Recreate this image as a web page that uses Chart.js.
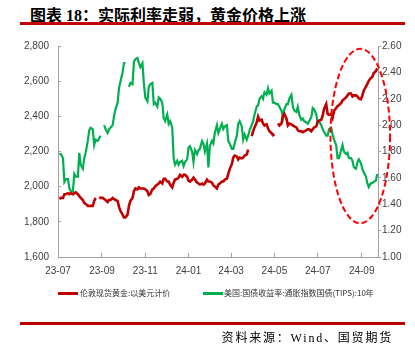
<!DOCTYPE html>
<html>
<head>
<meta charset="utf-8">
<script src="https://cdn.jsdelivr.net/npm/chart.js@4.4.1/dist/chart.umd.min.js"></script>
<style>
  html, body { margin: 0; padding: 0; background: #fff; }
  body { width: 415px; height: 356px; position: relative; overflow: hidden; }
  #title { position: absolute; left: 30px; top: 2px; font-family: 'Liberation Serif', 'Noto Sans CJK SC', serif; font-weight: bold; font-size: 16px; color: #000; white-space: nowrap; }
  .rule { position: absolute; left: 20px; width: 385px; height: 2.5px; background: #C00000; }
  #wrap { position: absolute; left: 0; top: 28px; width: 415px; height: 262px; }
  #legend { position: absolute; left: 0; top: 287px; width: 415px; height: 14px; font-family: 'Noto Sans CJK SC', sans-serif; font-size: 8px; color: #333; }
  .item { position: absolute; top: 0; height: 12px; line-height: 12px; white-space: nowrap; }
  .sw { position: absolute; top: 5px; width: 20px; height: 3px; }
  .txt { position: absolute; top: 0; }
  #source { position: absolute; right: 22px; top: 328px; font-family: 'Liberation Serif', 'Noto Sans CJK SC', serif; font-size: 12px; letter-spacing: 1.8px; color: #000; white-space: nowrap; }
</style>
</head>
<body>
<div id="title">图表 18：实际利率走弱，黄金价格上涨</div>
<div class="rule" style="top:22px"></div>
<div id="wrap"><canvas id="c" width="415" height="262"></canvas></div>
<div id="legend"></div>
<div class="rule" style="top:322px"></div>
<div id="source">资料来源：Wind、国贸期货</div>
<script>
// ---- categories (dates) ----
const dates = [
'2023-07-05','2023-07-07','2023-07-10','2023-07-12','2023-07-14','2023-07-17','2023-07-19','2023-07-21','2023-07-24','2023-07-26','2023-07-28','2023-07-31',
'2023-08-02','2023-08-04','2023-08-07','2023-08-09','2023-08-11','2023-08-14','2023-08-16','2023-08-18','2023-08-21','2023-08-23','2023-08-25','2023-08-28',
'2023-08-30','2023-09-01','2023-09-04','2023-09-06','2023-09-08','2023-09-11','2023-09-13','2023-09-15','2023-09-18','2023-09-20','2023-09-22','2023-09-25',
'2023-09-27','2023-09-29','2023-10-02','2023-10-04','2023-10-06','2023-10-09','2023-10-11','2023-10-13','2023-10-16','2023-10-18','2023-10-20','2023-10-23',
'2023-10-25','2023-10-27','2023-10-30','2023-11-01','2023-11-03','2023-11-06','2023-11-08','2023-11-10','2023-11-13','2023-11-15','2023-11-17','2023-11-20',
'2023-11-22','2023-11-24','2023-11-27','2023-11-29','2023-12-01','2023-12-04','2023-12-06','2023-12-08','2023-12-11','2023-12-13','2023-12-15','2023-12-18',
'2023-12-20','2023-12-22','2023-12-25','2023-12-27','2023-12-29','2024-01-01','2024-01-03','2024-01-05','2024-01-08','2024-01-10','2024-01-12','2024-01-15',
'2024-01-17','2024-01-19','2024-01-22','2024-01-24','2024-01-26','2024-01-29','2024-01-31','2024-02-02','2024-02-05','2024-02-07','2024-02-09','2024-02-12',
'2024-02-14','2024-02-16','2024-02-19','2024-02-21','2024-02-23','2024-02-26','2024-02-28','2024-03-01','2024-03-04','2024-03-06','2024-03-08','2024-03-11',
'2024-03-13','2024-03-15','2024-03-18','2024-03-20','2024-03-22','2024-03-25','2024-03-27','2024-03-29','2024-04-01','2024-04-03','2024-04-05','2024-04-08',
'2024-04-10','2024-04-12','2024-04-15','2024-04-17','2024-04-19','2024-04-22','2024-04-24','2024-04-26','2024-04-29','2024-05-01','2024-05-03','2024-05-06',
'2024-05-08','2024-05-10','2024-05-13','2024-05-15','2024-05-17','2024-05-20','2024-05-22','2024-05-24','2024-05-27','2024-05-29','2024-05-31','2024-06-03',
'2024-06-05','2024-06-07','2024-06-10','2024-06-12','2024-06-14','2024-06-17','2024-06-19','2024-06-21','2024-06-24','2024-06-26','2024-06-28','2024-07-01',
'2024-07-03','2024-07-05','2024-07-08','2024-07-10','2024-07-12','2024-07-15','2024-07-17','2024-07-19','2024-07-22','2024-07-24','2024-07-26','2024-07-29',
'2024-07-31','2024-08-02','2024-08-05','2024-08-07','2024-08-09','2024-08-12','2024-08-14','2024-08-16','2024-08-19','2024-08-21','2024-08-23','2024-08-26',
'2024-08-28','2024-08-30','2024-09-02','2024-09-04','2024-09-06','2024-09-09','2024-09-11','2024-09-13','2024-09-16','2024-09-18','2024-09-20','2024-09-23',
'2024-09-25'
];

// ---- series: LBMA gold spot, USD (left axis) ----
const goldPrice = [
1930,1936,1936, 1957,1957,1963, 1957,1963,1957, 1963,1968,1957,
1946,1936,1924, 1908,1902,1891, 1891,1891,1891, 1919,1936,null,
1941,1936,1936, 1930,1924,1913, 1924,1924,1936, 1930,1924,1919,
1885,1863,1841, 1825,1825,1841, 1891,1919,1936, 1974,1990,1985,
1996,1990,1990, 1990,1985,1974, 1952,1957,1985, 1990,2001,2012,
2018,2029,2018, 2045,2045,2029, 2029,2012,1996, 2023,2040,2045,
2051,2067,2056, 2067,2067,2056, 2034,2029,2040, 2051,2040,2023,
2018,2012,2018, 2012,2018,2040, 2029,2029,2023, 2007,2001,1990,
2012,2018,2029, 2029,2040,2045, 2073,2100,2128, 2166,2177,2172,
2155,2166,2161, 2166,2177,2183, 2211,null,2288, 2315,2337,2365,
2398,2376,2381, 2359,2348,2354, 2332,2315,2304, 2293,2299,null,
2359,2348,2359, 2403,2414,2387, 2348,2359,2354, 2348,2343,2337,
2321,2315,2315, 2310,2315,2321, 2326,2326,2315, 2326,2337,2343,
2370,2376,2381, 2403,2442,2469, 2414,2409,2414, 2392,2431,2447,
2458,2464,2475, 2491,2497,2508, 2519,2530,2530, 2513,2519,2519,
2513,2502,2497, 2519,2547,2569, 2585,2602,2618, 2624,2646,2657,
2673
];

// ---- series: US 10Y TIPS yield, % (right axis) ----
const tipsYield = [
1.78,1.78,1.75, 1.57,1.59,1.59, 1.52,1.50,1.50, 1.63,1.61,1.61,
1.79,1.70,1.67, 1.75,1.79,1.88, 1.96,1.98,1.97, 1.85,1.89,1.88,
1.90,1.92,null, 2.00,1.97,1.94, 1.97,1.98,2.00, 2.07,2.12,2.17,
2.28,2.33,2.40, 2.47,2.47,null, 2.29,2.32,2.31, 2.48,2.50,2.51,
2.47,2.44,2.47, 2.32,2.21,2.18, 2.29,2.31,2.32, 2.16,2.17,2.14,
2.21,2.20,2.17, 2.05,2.03,2.08, 2.01,2.03,1.98, 1.75,1.70,1.73,
1.70,1.72,1.73, 1.69,1.72,1.74, 1.83,1.84,1.80, 1.72,1.81,1.78,
1.81,1.82,1.88, 1.86,1.80,1.86, 1.68,1.84,1.88, 1.86,1.94,2.00,
1.94,1.97,2.01, 1.97,1.99,2.00, 1.88,1.86,1.82, 1.82,1.86,1.92,
2.01,2.03,1.99, 1.89,1.93,1.89, 1.92,1.96,2.00, 2.03,2.08,2.14,
2.15,2.20,2.22, 2.20,2.25,2.23, 2.28,2.24,2.26, 2.17,2.17,2.16,
2.16,2.14,2.11, 2.06,2.12,2.16, 2.16,2.20,2.23, 2.14,2.11,2.10,
2.14,2.08,2.04, 2.05,2.03,2.02, 2.01,2.03,2.06, 2.13,2.12,2.08,
2.02,2.03,2.00, 1.97,1.95,1.92, 1.92,1.97,1.98, 1.93,1.89,1.85,
1.75,1.75,1.81, 1.85,1.80,1.78, 1.79,1.75,1.75, 1.73,1.68,1.67,
1.72,1.74,1.71, 1.67,1.64,1.61, 1.56,1.53,1.56, 1.56,1.57,1.58,
1.63
];

const seriesNames = ['伦敦现货黄金:以美元计价', '美国:国债收益率:通胀指数国债(TIPS):10年'];
const seriesColors = ['#C00000', '#00B050'];

// ---- axis ticks ----
const axisStart = '2023-07-03';
const axisEnd = '2024-09-26';
const xTickDates = ['2023-07-03','2023-09-03','2023-11-03','2024-01-03','2024-03-03','2024-05-03','2024-07-03','2024-09-03'];
const xTickLabels = ['23-07','23-09','23-11','24-01','24-03','24-05','24-07','24-09'];
const leftTicks = [1600, 1800, 2000, 2200, 2400, 2600, 2800];
const rightTicks = [1.00, 1.20, 1.40, 1.60, 1.80, 2.00, 2.20, 2.40, 2.60];

// highlight ellipse, in data units (dates on x, left-axis values on y)
const highlight = { xFrom: '2024-07-21', xTo: '2024-10-13', yFrom: 1792, yTo: 2784 };

const DAY = 86400000;
const dayOf = d => (Date.parse(d) - Date.parse(axisStart)) / DAY;

const goldPts = dates.map((d, i) => ({ x: dayOf(d), y: goldPrice[i] }));
const tipsPts = dates.map((d, i) => ({ x: dayOf(d), y: tipsYield[i] }));

// HTML legend
const legendPos = [{ sw: 58, tx: 80 }, { sw: 203, tx: 224 }];
const lg = document.getElementById('legend');
seriesNames.forEach((n, i) => {
  const it = document.createElement('div');
  it.className = 'item';
  it.style.left = '0px';
  it.innerHTML = '<span class="sw" style="left:' + legendPos[i].sw + 'px;background:' + seriesColors[i] + '"></span>' +
                 '<span class="txt" style="left:' + legendPos[i].tx + 'px">' + n + '</span>';
  lg.appendChild(it);
});

const tickFont = { family: "'Liberation Sans Narrow', 'Arial Narrow', 'Liberation Sans', sans-serif", size: 10 };

const ellipsePlugin = {
  id: 'ellipse',
  afterDatasetsDraw(chart) {
    const { ctx, scales } = chart;
    const x1 = scales.x.getPixelForValue(dayOf(highlight.xFrom));
    const x2 = scales.x.getPixelForValue(dayOf(highlight.xTo));
    const y1 = scales.y.getPixelForValue(highlight.yTo);
    const y2 = scales.y.getPixelForValue(highlight.yFrom);
    ctx.save();
    ctx.beginPath();
    ctx.ellipse((x1 + x2) / 2, (y1 + y2) / 2, (x2 - x1) / 2, (y2 - y1) / 2, 0, 0, Math.PI * 2);
    ctx.strokeStyle = '#FF0000';
    ctx.lineWidth = 2;
    ctx.setLineDash([6, 3]);
    ctx.stroke();
    ctx.restore();
  }
};

new Chart(document.getElementById('c'), {
  type: 'line',
  data: {
    datasets: [
      { label: seriesNames[0], data: goldPts, yAxisID: 'y', borderColor: seriesColors[0], backgroundColor: seriesColors[0], borderWidth: 2.6, pointRadius: 0, tension: 0, spanGaps: false },
      { label: seriesNames[1], data: tipsPts, yAxisID: 'y1', borderColor: seriesColors[1], backgroundColor: seriesColors[1], borderWidth: 2.2, pointRadius: 0, tension: 0, spanGaps: false }
    ]
  },
  options: {
    responsive: false,
    animation: false,
    devicePixelRatio: 1,
    layout: { padding: { top: 12, left: 0, right: 0, bottom: 0 } },
    plugins: { legend: { display: false }, tooltip: { enabled: false } },
    scales: {
      x: {
        type: 'linear',
        min: 0,
        max: dayOf(axisEnd),
        afterBuildTicks: s => { s.ticks = xTickDates.map(d => ({ value: dayOf(d) })); },
        afterFit: s => { s.height = 33; },
        ticks: { autoSkip: false, maxRotation: 0, minRotation: 0, font: tickFont, color: '#404040', padding: 12,
                 callback: (v, i) => xTickLabels[i] },
        grid: { drawOnChartArea: false, drawTicks: true, tickLength: -4, color: '#A0A0A0' },
        border: { color: '#A0A0A0', width: 1 }
      },
      y: {
        position: 'left',
        min: leftTicks[0],
        max: leftTicks[leftTicks.length - 1],
        afterBuildTicks: s => { s.ticks = leftTicks.map(v => ({ value: v })); },
        afterFit: s => { s.width = 58; },
        ticks: { font: tickFont, color: '#404040', padding: 12, callback: v => v.toLocaleString('en-US') },
        grid: { drawOnChartArea: false, drawTicks: true, tickLength: -3, color: '#A0A0A0' },
        border: { color: '#A0A0A0', width: 1 }
      },
      y1: {
        position: 'right',
        min: rightTicks[0],
        max: rightTicks[rightTicks.length - 1],
        afterBuildTicks: s => { s.ticks = rightTicks.map(v => ({ value: v })); },
        afterFit: s => { s.width = 37; },
        ticks: { font: tickFont, color: '#404040', padding: 1, callback: v => Number(v).toFixed(2) },
        grid: { drawOnChartArea: false, drawTicks: true, tickLength: 3, color: '#A0A0A0' },
        border: { color: '#A0A0A0', width: 1 }
      }
    }
  },
  plugins: [ellipsePlugin]
});
</script>
</body>
</html>
